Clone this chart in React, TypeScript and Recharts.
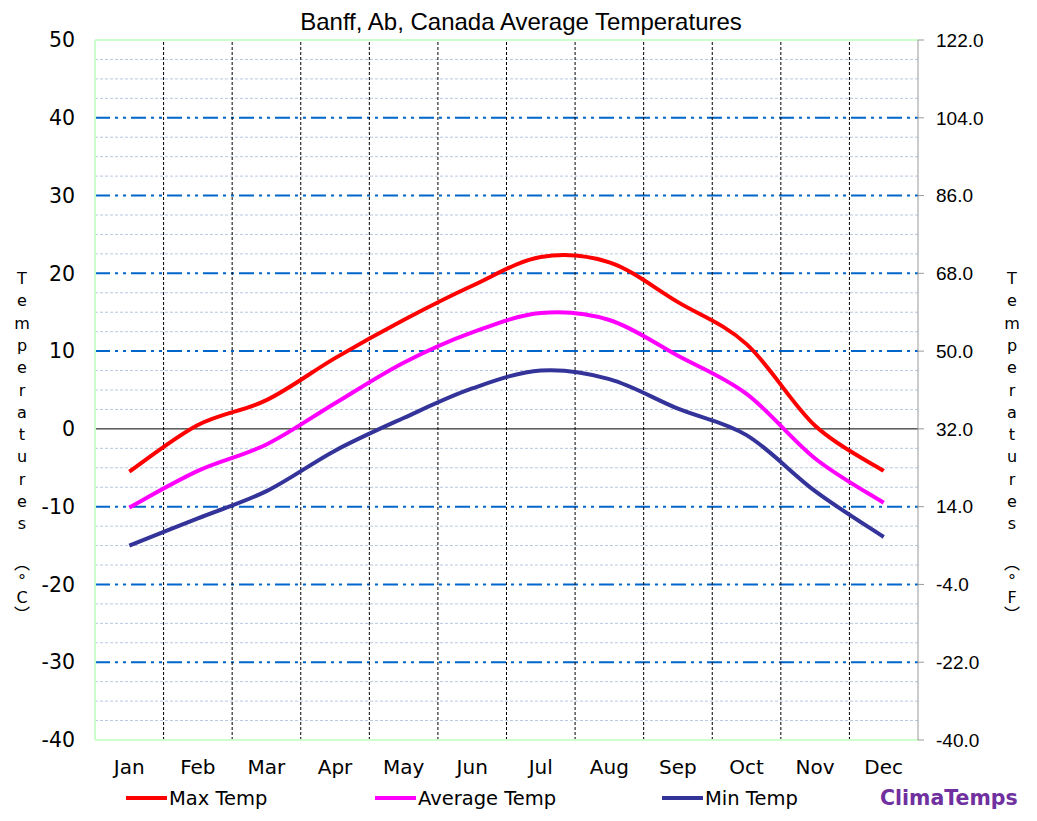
import { LineChart, Line, XAxis, YAxis, ReferenceLine } from 'recharts';

const months = ['Jan', 'Feb', 'Mar', 'Apr', 'May', 'Jun', 'Jul', 'Aug', 'Sep', 'Oct', 'Nov', 'Dec'];
const maxTemp = [-5.5, 0.5, 3.7, 9.1, 14, 18.4, 22.1, 21.4, 16.3, 10.9, 0.4, -5.4];
const avgTemp = [-10.1, -5.4, -2, 3.3, 8.5, 12.4, 14.9, 14, 9.4, 4.5, -3.8, -9.5];
const minTemp = [-15, -11.5, -8, -2.8, 1.4, 5.2, 7.5, 6.4, 2.6, -0.8, -8, -13.9];

const cTicks = [-40, -30, -20, -10, 0, 10, 20, 30, 40, 50];
const fTicks = [-40, -22, -4, 14, 32, 50, 68, 86, 104, 122];
const majorLines = [-30, -20, -10, 10, 20, 30, 40];
const minorLines = [-37.5, -35, -32.5, -27.5, -25, -22.5, -17.5, -15, -12.5, -7.5, -5, -2.5,
  2.5, 5, 7.5, 12.5, 15, 17.5, 22.5, 25, 27.5, 32.5, 35, 37.5, 42.5, 45, 47.5];
const monthBounds = [1, 2, 3, 4, 5, 6, 7, 8, 9, 10, 11];

const data = months.map((m, i) => ({
  x: i + 0.5,
  month: m,
  max: maxTemp[i],
  avg: avgTemp[i],
  min: minTemp[i],
}));

const VERDANA = '"DejaVu Sans", Verdana, sans-serif';
const ARIAL = '"Liberation Sans", Arial, sans-serif';

// smooth line similar to Excel's "smoothed line" (Catmull-Rom)
const smoothCurve = (context: any) => {
  let pts: number[][] = [];
  return {
    areaStart() {},
    areaEnd() {},
    lineStart() { pts = []; },
    point(x: number, y: number) { pts.push([+x, +y]); },
    lineEnd() {
      if (!pts.length) return;
      context.moveTo(pts[0][0], pts[0][1]);
      for (let i = 0; i < pts.length - 1; i++) {
        const p0 = pts[Math.max(i - 1, 0)];
        const p1 = pts[i];
        const p2 = pts[i + 1];
        const p3 = pts[Math.min(i + 2, pts.length - 1)];
        context.bezierCurveTo(
          p1[0] + (p2[0] - p0[0]) / 6, p1[1] + (p2[1] - p0[1]) / 6,
          p2[0] - (p3[0] - p1[0]) / 6, p2[1] - (p3[1] - p1[1]) / 6,
          p2[0], p2[1],
        );
      }
    },
  };
};

const StackedLabel = ({ x, y, chars }: { x: number; y: number; chars: string[] }) => (
  <text x={x} y={y} textAnchor="middle" fontFamily={`${VERDANA}, "Noto Sans CJK SC"`} fontSize={16} fill="#000">
    {chars.map((c, i) => (
      <tspan key={i} x={x} dy={i === 0 ? 0 : c === '︵' ? 40 : i > 12 ? 17 : 22.3}>{c}</tspan>
    ))}
  </text>
);

const legendItems = [
  { label: 'Max Temp', color: '#ff0000', x: 126 },
  { label: 'Average Temp', color: '#ff00ff', x: 375 },
  { label: 'Min Temp', color: '#333399', x: 662 },
];

export default function App() {
  return (
    <div style={{ position: 'absolute', left: 0, top: 0, width: 1037, height: 821, background: '#fff' }}>
      <LineChart width={1037} height={821} data={data} margin={{ top: 40, right: 39, left: 35, bottom: 41 }}>
        <XAxis
          dataKey="x"
          type="number"
          domain={[0, 12]}
          ticks={data.map((d) => d.x)}
          tickFormatter={(v: number) => months[Math.floor(v)]}
          axisLine={{ stroke: '#ccffcc', strokeWidth: 2 }}
          tickLine={false}
          tickSize={0}
          tickMargin={20}
          height={40}
          tick={{ fill: '#000', fontSize: 20, fontFamily: VERDANA }}
        />
        <YAxis
          yAxisId="c"
          domain={[-40, 50]}
          ticks={cTicks}
          allowDataOverflow
          width={60}
          axisLine={{ stroke: '#ccffcc', strokeWidth: 2 }}
          tickLine={false}
          tickSize={0}
          tickMargin={20}
          tick={{ fill: '#000', fontSize: 20.5, fontFamily: VERDANA }}
        />
        <YAxis
          yAxisId="f"
          orientation="right"
          domain={[-40, 122]}
          ticks={fTicks}
          allowDataOverflow
          width={80}
          tickFormatter={(v: number) => v.toFixed(1)}
          axisLine={{ stroke: '#999999' }}
          tickLine={{ stroke: '#999999' }}
          tickSize={6}
          tickMargin={12}
          tick={{ fill: '#000', fontSize: 19, fontFamily: ARIAL, textAnchor: 'start' }}
        />
        {minorLines.map((v) => (
          <ReferenceLine key={`mn${v}`} yAxisId="c" y={v} stroke="#b8c8e0" strokeDasharray="3 2" />
        ))}
        {majorLines.map((v) => (
          <ReferenceLine key={`mj${v}`} yAxisId="c" y={v} stroke="#0066cc" strokeWidth={2} strokeDasharray="15 5 3 5 3 5" />
        ))}
        {monthBounds.map((v) => (
          <ReferenceLine key={`v${v}`} yAxisId="c" x={v} stroke="#000" strokeDasharray="3 2" />
        ))}
        <ReferenceLine yAxisId="c" y={0} stroke="#000" strokeWidth={1} />
        <ReferenceLine yAxisId="c" y={50} stroke="#ccffcc" strokeWidth={2} />
        <Line yAxisId="c" dataKey="max" type={smoothCurve as any} stroke="#ff0000" strokeWidth={4} dot={false} isAnimationActive={false} />
        <Line yAxisId="c" dataKey="avg" type={smoothCurve as any} stroke="#ff00ff" strokeWidth={4} dot={false} isAnimationActive={false} />
        <Line yAxisId="c" dataKey="min" type={smoothCurve as any} stroke="#333399" strokeWidth={4} dot={false} isAnimationActive={false} />

        <text x={521} y={30} textAnchor="middle" fontFamily={ARIAL} fontSize={24} fill="#000">
          Banff, Ab, Canada Average Temperatures
        </text>
        <StackedLabel x={22} y={284} chars={[...'Temperatures', '︵', '°', 'C', '︶']} />
        <StackedLabel x={1012} y={284} chars={[...'Temperatures', '︵', '°', 'F', '︶']} />
        {legendItems.map((it) => (
          <g key={it.label}>
            <line x1={it.x} x2={it.x + 41} y1={798} y2={798} stroke={it.color} strokeWidth={4} />
            <text x={it.x + 43} y={805} fontFamily={VERDANA} fontSize={19.5} fill="#000">{it.label}</text>
          </g>
        ))}
        <text x={880} y={805} fontFamily={VERDANA} fontSize={20.5} fontWeight="bold" fill="#7030a0">ClimaTemps</text>
      </LineChart>
    </div>
  );
}
